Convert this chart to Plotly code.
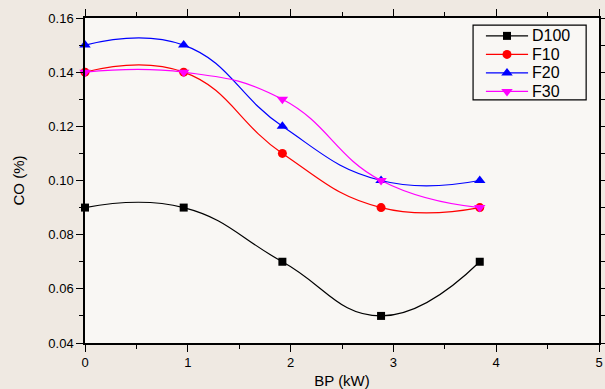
import plotly.graph_objects as go

# Brake power (kW) and CO emissions (%) for each fuel blend
bp = [0, 0.96, 1.92, 2.88, 3.84]
d100 = [0.09, 0.09, 0.07, 0.05, 0.07]
f10 = [0.14, 0.14, 0.11, 0.09, 0.09]
f20 = [0.15, 0.15, 0.12, 0.10, 0.10]
f30 = [0.14, 0.14, 0.13, 0.10, 0.09]

x_ticks = [0, 1, 2, 3, 4, 5]
y_ticks = [0.04, 0.06, 0.08, 0.10, 0.12, 0.14, 0.16]

series = [
    ("D100", d100, "black", "square", 8),
    ("F10", f10, "red", "circle", 9),
    ("F20", f20, "blue", "triangle-up", 10),
    ("F30", f30, "magenta", "triangle-down", 10),
]

FONT = "Liberation Sans, Arial"

fig = go.Figure()
for name, vals, col, sym, sz in series:
    fig.add_trace(go.Scatter(
        x=bp, y=vals, name=name, mode="lines+markers",
        line=dict(color=col, width=1.2, shape="spline", smoothing=1.3),
        marker=dict(color=col, symbol=sym, size=sz),
        cliponaxis=False, showlegend=False,
    ))

# Boxed legend drawn on a hidden overlay axis (0..1 over the plot area)
leg_x0, leg_x1 = 0.755, 0.975
leg_y0, leg_y1 = 0.748, 0.978
line_x = [0.780, 0.862]
text_x = 0.866
row_y = [0.945, 0.888, 0.831, 0.774]
for (name, vals, col, sym, sz), ry in zip(series, row_y):
    fig.add_trace(go.Scatter(
        x=line_x, y=[ry, ry], mode="lines", xaxis="x2", yaxis="y2",
        line=dict(color=col, width=1.2), showlegend=False, hoverinfo="skip",
    ))
    fig.add_trace(go.Scatter(
        x=[sum(line_x) / 2], y=[ry], mode="markers", xaxis="x2", yaxis="y2",
        marker=dict(color=col, symbol=sym, size=sz), showlegend=False, hoverinfo="skip",
    ))
    fig.add_annotation(
        x=text_x, y=ry, xref="x2", yref="y2", text=name, showarrow=False,
        xanchor="left", yanchor="middle",
        font=dict(family=FONT, size=16, color="black"),
    )
fig.add_shape(type="rect", xref="x2", yref="y2", x0=leg_x0, x1=leg_x1, y0=leg_y0, y1=leg_y1,
              line=dict(color="black", width=1.2), fillcolor="rgba(255,255,255,0)")

axis_common = dict(
    showline=True, linecolor="black", linewidth=1.5, mirror="allticks",
    ticks="outside", ticklen=7, tickcolor="black", tickwidth=1,
    showgrid=False, zeroline=False, automargin=False,
    tickfont=dict(family=FONT, size=13, color="black"),
    minor=dict(ticks="outside", ticklen=4, tickcolor="black", showgrid=False),
)

fig.update_layout(
    xaxis=dict(
        range=[0, 5], tickvals=x_ticks, ticktext=[str(v) for v in x_ticks],
        title=dict(text="BP (kW)", font=dict(family=FONT, size=15, color="black"), standoff=14),
        minor_dtick=0.5, **axis_common,
    ),
    yaxis=dict(
        range=[0.04, 0.16], tickvals=y_ticks, ticktext=[f"{v:.2f}" for v in y_ticks],
        title=dict(text="CO (%)", font=dict(family=FONT, size=15, color="black"), standoff=20),
        minor_dtick=0.01, **axis_common,
    ),
    xaxis2=dict(range=[0, 1], overlaying="x", visible=False, fixedrange=True),
    yaxis2=dict(range=[0, 1], overlaying="y", visible=False, fixedrange=True),
    width=605, height=389,
    margin=dict(l=85, r=6, t=18, b=46),
    paper_bgcolor="#efe9e2",
    plot_bgcolor="#f9f7f4",
    showlegend=False,
)

fig.write_html("out.html")
